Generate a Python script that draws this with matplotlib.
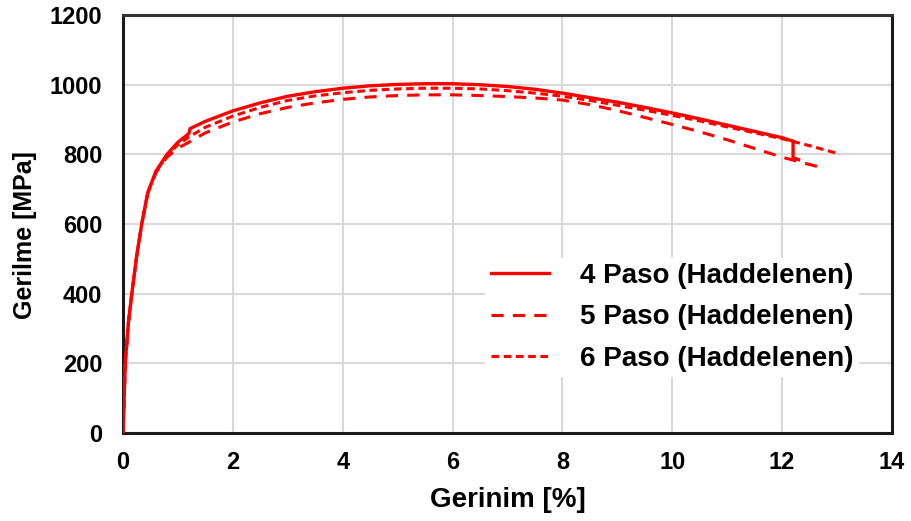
import matplotlib
matplotlib.use("Agg")
import matplotlib.pyplot as plt

plt.rcParams['font.family'] = ['Liberation Sans', 'DejaVu Sans']

# Stress-strain data (strain in %, stress in MPa)
strain_4 = [0, 0.04, 0.1, 0.16, 0.25, 0.34, 0.45, 0.6, 0.8, 1.0, 1.2, 1.22, 1.5, 2, 2.5, 3, 3.5, 4,
            4.5, 5, 5.5, 6, 6.5, 7, 7.5, 8, 8.5, 9, 9.5, 10, 10.5, 11, 11.5, 12, 12.2, 12.2, 12.3]
stress_4 = [0, 200, 320, 400, 510, 600, 690, 752, 800, 835, 860, 874, 895, 925, 948, 967, 980, 990,
            997, 1001, 1003, 1003, 1000, 995, 987, 976, 963, 950, 935, 919, 902, 884, 866, 848, 838, 790, 785]

strain_5 = [0, 0.04, 0.1, 0.16, 0.25, 0.34, 0.45, 0.6, 0.8, 1.0, 1.2, 1.5, 2, 2.5, 3, 3.5, 4,
            4.5, 5, 5.5, 6, 6.5, 7, 7.5, 8, 8.5, 9, 9.5, 10, 10.5, 11, 11.5, 12, 12.4, 12.75]
stress_5 = [0, 200, 320, 400, 510, 600, 688, 748, 792, 818, 835, 862, 893, 917, 935, 948, 958,
            965, 969, 971, 971, 969, 966, 962, 956, 943, 926, 906, 886, 865, 842, 817, 792, 775, 761]

strain_6 = [0, 0.04, 0.1, 0.16, 0.25, 0.34, 0.45, 0.6, 0.8, 1.0, 1.2, 1.5, 2, 2.5, 3, 3.5, 4,
            4.5, 5, 5.5, 6, 6.5, 7, 7.5, 8, 8.5, 9, 9.5, 10, 10.5, 11, 11.5, 12, 12.5, 13.05]
stress_6 = [0, 200, 320, 400, 510, 600, 690, 750, 797, 828, 850, 878, 910, 935, 955, 968, 977,
            984, 988, 990, 990, 988, 983, 976, 967, 955, 941, 927, 912, 896, 879, 862, 845, 825, 801]

labels = ["4 Paso (Haddelenen)", "5 Paso (Haddelenen)", "6 Paso (Haddelenen)"]
x_ticks = [0, 2, 4, 6, 8, 10, 12, 14]
y_ticks = [0, 200, 400, 600, 800, 1000, 1200]

fig = plt.figure(figsize=(9.12, 5.21), dpi=100)
ax = fig.add_axes([0.1349, 0.169, 0.8431, 0.802])

red = "#ff0000"
ax.plot(strain_4, stress_4, color=red, lw=2.4, ls="-", label=labels[0], zorder=4)
ax.plot(strain_5, stress_5, color=red, lw=2.2, ls=(0, (4, 3)), label=labels[1], zorder=3)
ax.plot(strain_6, stress_6, color=red, lw=2.2, ls=(0, (2.5, 1.5)), label=labels[2], zorder=3)

ax.set_xlim(0, 14)
ax.set_ylim(0, 1200)
ax.set_xticks(x_ticks)
ax.set_yticks(y_ticks)
ax.grid(True, color="#d9d9d9", lw=1.5)
ax.set_axisbelow(True)
ax.tick_params(axis="x", length=0, pad=13, labelsize=17)
ax.tick_params(axis="y", length=0, pad=15, labelsize=17)
for lab in ax.get_xticklabels() + ax.get_yticklabels():
    lab.set_fontweight("bold")

for sp in ax.spines.values():
    sp.set_linewidth(2.2)
    sp.set_color("#1a1a1a")
ax.spines["top"].set_color("#333333")

ax.set_xlabel("Gerinim [%]", fontsize=20, fontweight="bold", labelpad=9)
ax.set_ylabel("Gerilme [MPa]", fontsize=18, fontweight="bold")
ax.yaxis.set_label_coords(-0.112, 0.474)

leg = ax.legend(loc="lower right", bbox_to_anchor=(0.975, 0.10), frameon=True,
                framealpha=1, edgecolor="none", fontsize=20, handlelength=2.1,
                handletextpad=1.1, labelspacing=0.55, borderpad=0.2)
for t in leg.get_texts():
    t.set_fontweight("bold")

fig.savefig("out.png", dpi=100)
